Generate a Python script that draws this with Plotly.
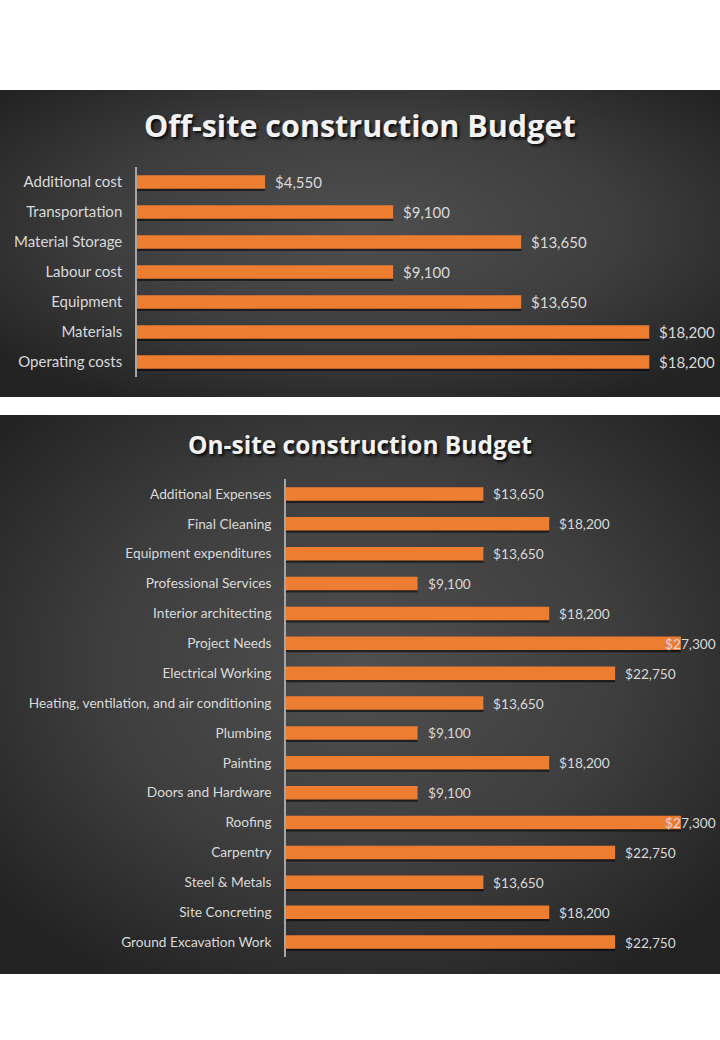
import base64
import plotly.graph_objects as go

# ---------------- data ----------------
off_categories = ["Operating costs", "Materials", "Equipment", "Labour cost",
                  "Material Storage", "Transportation", "Additional cost"]
off_values = [18200, 18200, 13650, 9100, 13650, 9100, 4550]

on_categories = ["Ground Excavation Work", "Site Concreting", "Steel & Metals", "Carpentry",
                 "Roofing", "Doors and Hardware", "Painting", "Plumbing",
                 "Heating, ventilation, and air conditioning", "Electrical Working",
                 "Project Needs", "Interior architecting", "Professional Services",
                 "Equipment expenditures", "Final Cleaning", "Additional Expenses"]
on_values = [22750, 18200, 13650, 22750, 27300, 9100, 18200, 9100,
             13650, 22750, 27300, 18200, 9100, 13650, 18200, 13650]

off_title = "Off-site construction Budget"
on_title = "On-site construction Budget"

# ---------------- layout constants ----------------
W, H = 720, 1040
ORANGE = "#ED7D31"
LABEL = "#D9D9D9"
FONT = "Lato"
TITLE_FONT = "Open Sans"


def py(px):
    return 1 - px / H


def bg_image(w, h):
    svg = (f"<svg xmlns='http://www.w3.org/2000/svg' width='{w}' height='{h}' "
           f"viewBox='0 0 {w} {h}' preserveAspectRatio='none'>"
           "<defs><radialGradient id='g' cx='50%' cy='45%' r='65%'>"
           "<stop offset='0' stop-color='#4f4f4f'/>"
           "<stop offset='0.55' stop-color='#3e3e3e'/>"
           "<stop offset='1' stop-color='#232323'/>"
           "</radialGradient></defs>"
           f"<rect width='{w}' height='{h}' fill='url(#g)'/></svg>")
    return "data:image/svg+xml;base64," + base64.b64encode(svg.encode()).decode()


fig = go.Figure()

panels = [
    dict(cats=off_categories, vals=off_values, xa="x", ya="y", xmax=20000,
         xdom=[137 / W, 700 / W], ydom=[py(377), py(167)], fs=15,
         bg=(90, 397), title=off_title, tsize=30.5, ty=125),
    dict(cats=on_categories, vals=on_values, xa="x2", ya="y2", xmax=30000,
         xdom=[286 / W, 1.0], ydom=[py(957), py(479)], fs=13.7,
         bg=(415, 974), title=on_title, tsize=24.5, ty=444),
]

images = []
annotations = []
for i, p in enumerate(panels):
    # shadow bars
    fig.add_trace(go.Bar(
        x=p["vals"], y=p["cats"], orientation="h", xaxis=p["xa"], yaxis=p["ya"],
        marker=dict(color="rgba(0,0,0,0.55)", line=dict(width=0)),
        width=0.45, offset=-0.30, hoverinfo="skip", showlegend=False))
    # main bars
    fig.add_trace(go.Bar(
        x=p["vals"], y=p["cats"], orientation="h", xaxis=p["xa"], yaxis=p["ya"],
        marker=dict(color=ORANGE, line=dict(width=0)),
        width=0.45, offset=-0.225, showlegend=False))

    suffix = "" if i == 0 else "2"
    fig.layout["xaxis" + suffix] = dict(
        domain=p["xdom"], range=[0, p["xmax"]], visible=False, fixedrange=True,
        anchor=p["ya"])
    fig.layout["yaxis" + suffix] = dict(
        domain=p["ydom"], type="category", categoryorder="array",
        categoryarray=p["cats"], range=[-0.5, len(p["cats"]) - 0.5],
        anchor=p["xa"], showline=True, linecolor="#A6A6A6", linewidth=1.5,
        showgrid=False, zeroline=False, ticks="", ticklabelstandoff=10,
        tickfont=dict(family=FONT, size=p["fs"], color=LABEL))

    x0px = p["xdom"][0] * W
    wpx = (p["xdom"][1] - p["xdom"][0]) * W
    label_w = p["fs"] * 3.9
    for c, v in zip(p["cats"], p["vals"]):
        end_px = x0px + v / p["xmax"] * wpx
        txt = "${:,}".format(v)
        if end_px + 9 + label_w > W:
            annotations.append(dict(
                x=1, xref=p["xa"] + " domain", y=c, yref=p["ya"], text=txt,
                showarrow=False, xanchor="right", xshift=-2,
                font=dict(family=FONT, size=p["fs"], color=LABEL)))
        else:
            annotations.append(dict(
                x=v, xref=p["xa"], y=c, yref=p["ya"], text=txt,
                showarrow=False, xanchor="left", xshift=8,
                font=dict(family=FONT, size=p["fs"], color=LABEL)))

    top, bot = p["bg"]
    images.append(dict(
        source=bg_image(W, bot - top), xref="paper", yref="paper",
        x=0, y=py(top), sizex=1, sizey=(bot - top) / H,
        xanchor="left", yanchor="top", sizing="stretch", layer="below"))

    annotations.append(dict(
        x=0.5, xref="paper", y=py(p["ty"]), yref="paper", text="<b>" + p["title"] + "</b>",
        showarrow=False, xanchor="center", yanchor="middle",
        font=dict(family=TITLE_FONT, size=p["tsize"], color="#F2F2F2",
                  shadow="2px 2px 3px rgba(0,0,0,0.85)")))

fig.update_layout(
    width=W, height=H, autosize=False,
    margin=dict(l=0, r=0, t=0, b=0, pad=0),
    paper_bgcolor="white", plot_bgcolor="rgba(0,0,0,0)",
    barmode="overlay", bargap=0.55,
    images=images, annotations=annotations,
    showlegend=False,
)

fig.write_html("out.html")
